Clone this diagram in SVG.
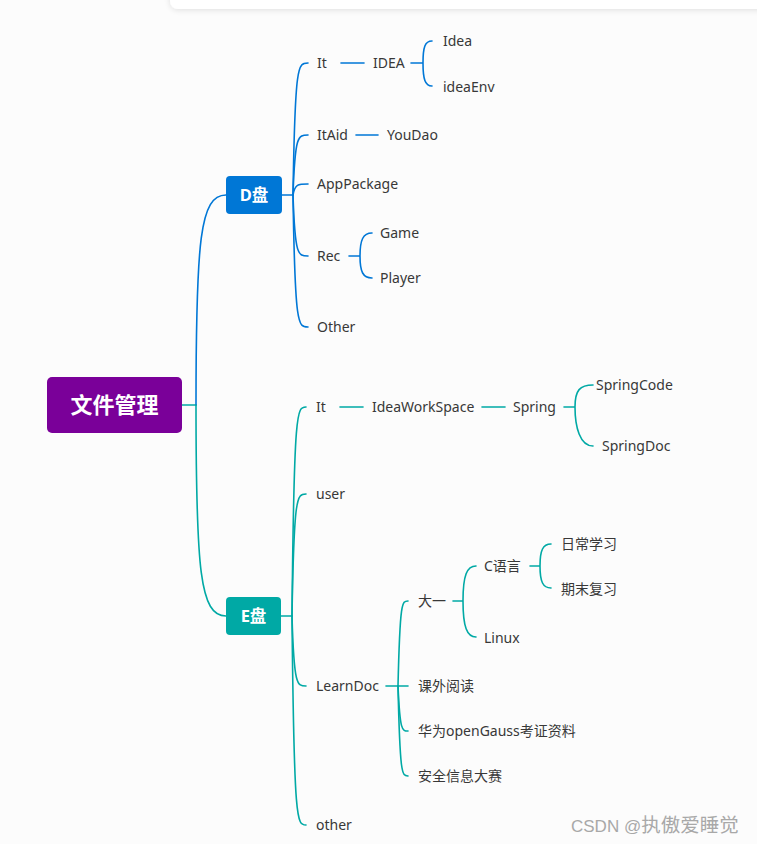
<svg xmlns="http://www.w3.org/2000/svg" width="757" height="844" viewBox="0 0 757 844">
<defs>
<filter id="sh" x="-10%" y="-100%" width="120%" height="400%"><feGaussianBlur in="SourceAlpha" stdDeviation="3"/><feOffset dy="1"/><feComponentTransfer><feFuncA type="linear" slope="0.12"/></feComponentTransfer><feMerge><feMergeNode/><feMergeNode in="SourceGraphic"/></feMerge></filter>
</defs>
<style>
.t{font-family:"Noto Sans","Noto Sans CJK SC",sans-serif;font-size:14px;fill:#383838}
.b{stroke:#0077D6;fill:none;stroke-width:1.6;stroke-linecap:round}
.g{stroke:#00A9A5;fill:none;stroke-width:1.6;stroke-linecap:round}
.w{font-family:"Noto Sans","Noto Sans CJK SC",sans-serif;font-weight:bold;fill:#fff;text-anchor:middle}
</style>
<rect x="0" y="0" width="757" height="844" fill="#fcfcfc"/>
<rect x="170" y="-20" width="620" height="29" rx="8" fill="#ffffff" filter="url(#sh)"/>
<g id="connectors">
<path class="g" d="M181,405 L196,405" stroke-width="2.2"/>
<path class="b" d="M196,405 C196,240 200,195 226,195" stroke-width="2.2"/>
<path class="g" d="M196,405 C196,570 200,616 226,616" stroke-width="2.2"/>
<path class="b" d="M282,195 L293,195"/>
<path class="b" d="M293,195 C295,63 298,63 308,63"/>
<path class="b" d="M293,195 C295,135 298,135 308,135"/>
<path class="b" d="M293,195 C295,184 298,184 308,184"/>
<path class="b" d="M293,195 C295,256 298,256 308,256"/>
<path class="b" d="M293,195 C295,327 298,327 308,327"/>
<path class="b" d="M341,63 L364,63"/>
<path class="b" d="M411,63 L423,63 M423,63 C423,47 425,41 432,41 M423,63 C423,79 425,86 432,86"/>
<path class="b" d="M356,135 L378,135"/>
<path class="b" d="M349,256 L360,256 M360,256 C360,240 363,233 372,233 M360,256 C360,272 363,278 372,278"/>
<path class="g" d="M281,616 L292,616"/>
<path class="g" d="M292,616 C294,407 297,407 306,407"/>
<path class="g" d="M292,616 C294,494 297,494 306,494"/>
<path class="g" d="M292,616 C294,686 297,686 306,686"/>
<path class="g" d="M292,616 C294,825 297,825 306,825"/>
<path class="g" d="M340,407 L363,407"/>
<path class="g" d="M482,407 L505,407"/>
<path class="g" d="M564,407 L575,407 M575,407 C575,390 580,385 593,385 M575,407 C575,427 580,446 593,446"/>
<path class="g" d="M386,686 L398,686"/>
<path class="g" d="M398,686 C400,601 402,601 408,601"/>
<path class="g" d="M398,686 C400,686 402,686 408,686"/>
<path class="g" d="M398,686 C400,731 402,731 408,731"/>
<path class="g" d="M398,686 C400,776 402,776 408,776"/>
<path class="g" d="M453,601 L463,601 M463,601 C463,575 467,566 476,566 M463,601 C463,627 467,637 476,637"/>
<path class="g" d="M530,566 L540,566 M540,566 C540,550 543,544 551,544 M540,566 C540,582 543,588 551,588"/>
</g>
<g id="root"><rect x="47" y="377" width="135" height="56" rx="5" fill="#7A0099"/><text class="w" x="114.5" y="413" font-size="22">文件管理</text></g>
<g id="d"><rect x="226" y="176" width="56" height="38" rx="4" fill="#0077D6"/><text class="w" x="254" y="201" font-size="16.5">D盘</text></g>
<g id="e"><rect x="226" y="597" width="55" height="38" rx="4" fill="#00A9A5"/><text class="w" x="253.5" y="622" font-size="16.5">E盘</text></g>
<g id="d-it"><text class="t" x="317" y="68">It</text></g>
<g id="d-idea"><text class="t" x="373" y="68">IDEA</text></g>
<g id="d-idea1"><text class="t" x="443" y="46">Idea</text></g>
<g id="d-ideaenv"><text class="t" x="443" y="92">ideaEnv</text></g>
<g id="d-itaid"><text class="t" x="317" y="140">ItAid</text></g>
<g id="d-youdao"><text class="t" x="387" y="140">YouDao</text></g>
<g id="d-app"><text class="t" x="317" y="189">AppPackage</text></g>
<g id="d-rec"><text class="t" x="317" y="261">Rec</text></g>
<g id="d-game"><text class="t" x="380" y="238">Game</text></g>
<g id="d-player"><text class="t" x="380" y="283">Player</text></g>
<g id="d-other"><text class="t" x="317" y="332">Other</text></g>
<g id="e-it"><text class="t" x="316" y="412">It</text></g>
<g id="e-iws"><text class="t" x="372" y="412">IdeaWorkSpace</text></g>
<g id="e-spring"><text class="t" x="513" y="412">Spring</text></g>
<g id="e-springcode"><text class="t" x="596" y="390">SpringCode</text></g>
<g id="e-springdoc"><text class="t" x="602" y="451">SpringDoc</text></g>
<g id="e-user"><text class="t" x="316" y="499">user</text></g>
<g id="e-learndoc"><text class="t" x="316" y="691">LearnDoc</text></g>
<g id="e-dayi"><text class="t" x="418" y="606">大一</text></g>
<g id="e-c"><text class="t" x="484" y="571">C语言</text></g>
<g id="e-richang"><text class="t" x="561" y="549">日常学习</text></g>
<g id="e-qimo"><text class="t" x="561" y="594">期末复习</text></g>
<g id="e-linux"><text class="t" x="484" y="643">Linux</text></g>
<g id="e-kewai"><text class="t" x="418" y="691">课外阅读</text></g>
<g id="e-huawei"><text class="t" x="418" y="736">华为openGauss考证资料</text></g>
<g id="e-anquan"><text class="t" x="418" y="781">安全信息大赛</text></g>
<g id="e-other"><text class="t" x="316" y="830">other</text></g>
<text x="571" y="832" font-family="'Liberation Sans','Noto Sans CJK SC',sans-serif" font-size="17" fill="#a8a8a8">CSDN @<tspan font-size="19.5">执傲爱睡觉</tspan></text>
</svg>
